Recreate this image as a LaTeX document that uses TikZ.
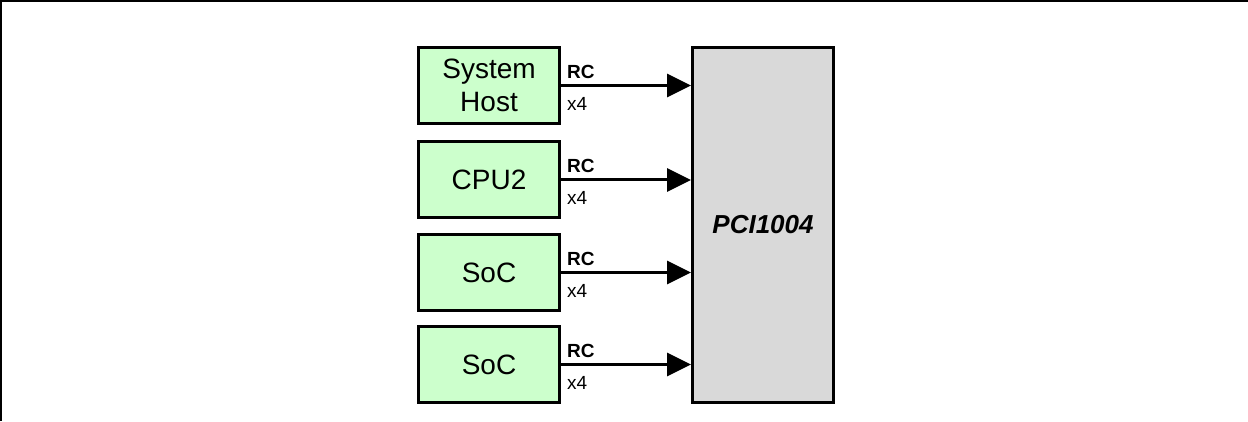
\documentclass[tikz,border=0pt]{standalone}
\usepackage{fontspec}
\setmainfont{Liberation Sans}
\usetikzlibrary{arrows.meta}
\definecolor{boxgreen}{HTML}{CCFFCC}
\definecolor{boxgrey}{HTML}{D9D9D9}
\tikzset{
  srcbox/.style={draw=black, line width=3pt, fill=boxgreen, minimum width=141pt, minimum height=76pt, inner sep=0pt, align=center, font=\fontsize{28}{33}\selectfont},
  mainbox/.style={draw=black, line width=3pt, fill=boxgrey, minimum width=141pt, minimum height=355pt, inner sep=0pt, font=\fontsize{26}{30}\selectfont\bfseries\itshape},
  arr/.style={line width=3pt, -{Triangle[length=24pt,width=23pt]}},
  rclbl/.style={anchor=base west, inner sep=0pt, font=\fontsize{19}{22}\selectfont\bfseries},
  xlbl/.style={anchor=base west, inner sep=0pt, font=\fontsize{19}{22}\selectfont}
}
\begin{document}
\begin{tikzpicture}[x=1pt,y=1pt]
\useasboundingbox (0,0) rectangle (1248,421);
\draw[line width=2pt] (1,0) -- (1,420) -- (1248,420);
\node[mainbox] (p) at (763,196) {PCI1004};
\node[srcbox] (h) at (489,335.5) {System\\Host};
\node[srcbox] (c) at (489,241) {CPU2};
\node[srcbox] (s1) at (489,148.5) {SoC};
\node[srcbox] (s2) at (489,56.5) {SoC};
\foreach \n in {h,c,s1,s2}{
  \draw[arr] (\n.east) -- (\n.east -| p.west);
  \node[rclbl] (rc\n) at ([xshift=6pt,yshift=7pt]\n.east) {RC};
  \node[xlbl] (x\n) at ([xshift=6pt,yshift=-25pt]\n.east) {x4};
}
\end{tikzpicture}
\end{document}
